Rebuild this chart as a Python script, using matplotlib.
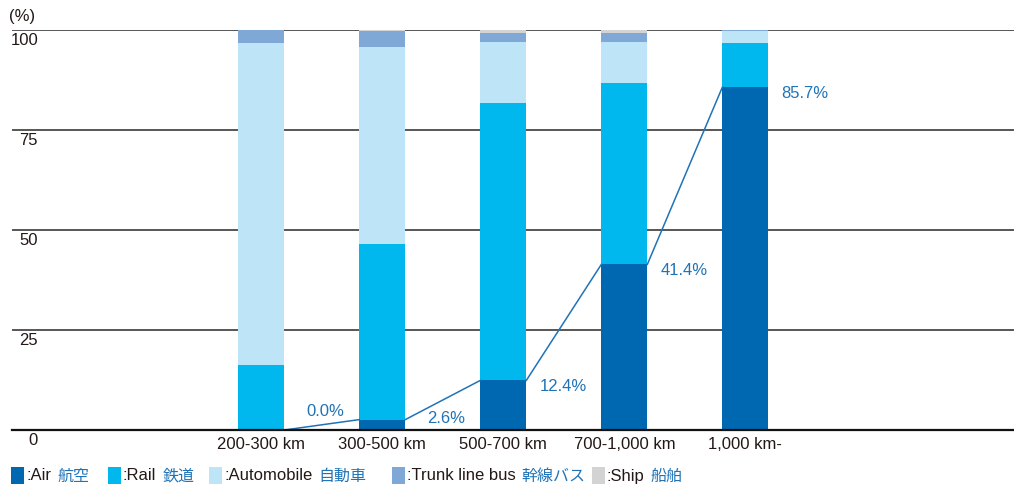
import matplotlib
matplotlib.use("Agg")
import matplotlib.pyplot as plt
from matplotlib.patches import Rectangle

plt.rcParams["font.family"] = ["Liberation Sans", "Noto Sans CJK JP", "DejaVu Sans"]

# data (share %, by distance band)
categories = ["200-300 km", "300-500 km", "500-700 km", "700-1,000 km", "1,000 km-"]
air = [0.0, 2.6, 12.4, 41.4, 85.7]
rail = [16.3, 43.9, 69.4, 45.4, 11.1]
auto = [80.5, 49.3, 15.2, 10.3, 2.9]
bus = [3.2, 3.9, 2.3, 2.2, 0.3]
ship = [0.0, 0.3, 0.7, 0.7, 0.0]
air_labels = ["0.0%", "2.6%", "12.4%", "41.4%", "85.7%"]

series_en = ["Air", "Rail", "Automobile", "Trunk line bus", "Ship"]
series_jp = ["航空", "鉄道", "自動車", "幹線バス", "船舶"]
colors = ["#0068b0", "#00b8ee", "#bee4f8", "#7fa8d6", "#d3d3d3"]
label_blue = "#1f73b7"
text_dark = "#231815"

W, H = 1014, 487
fig = plt.figure(figsize=(W / 100, H / 100), dpi=100)
ax = fig.add_axes([12 / W, 1 - 430 / H, 1 - 12 / W, 400 / H])

x = list(range(len(categories)))
width = 0.38
bottom = [0.0] * len(x)
for vals, c in zip([air, rail, auto, bus, ship], colors):
    ax.bar(x, vals, width=width, bottom=bottom, color=c, zorder=3, linewidth=0)
    bottom = [b + v for b, v in zip(bottom, vals)]

# connector line for air share
for i in range(len(x) - 1):
    ax.plot([x[i] + width / 2, x[i + 1] - width / 2], [air[i], air[i + 1]],
            color=label_blue, lw=1.1, zorder=4)

# labels
dx = [0.18, 0.18, 0.11, 0.11, 0.11]
dy = [4.5, 0.2, -1.5, -1.5, -1.5]
for i, (v, t) in enumerate(zip(air, air_labels)):
    ax.text(x[i] + width / 2 + dx[i], v + dy[i], t, color=label_blue,
            fontsize=12, ha="left", va="center", zorder=5)

ax.set_xlim(-2.06, 6.22)
ax.set_ylim(0, 100)
for s in ax.spines.values():
    s.set_visible(False)
ax.set_xticks([])
ax.set_yticks([])

for yv in [25, 50, 75, 100]:
    ax.axhline(yv, color="#3a3a3a", lw=1.2, zorder=1)
ax.axhline(0, color="#111111", lw=1.6, zorder=4, clip_on=False)

# y tick labels under the gridlines
for yv in [0, 25, 50, 75, 100]:
    fig.text(38 / W, 1 - (430 - yv * 4 + 3) / H, str(yv), ha="right", va="top",
             fontsize=12, color=text_dark)
fig.text(9 / W, 1 - 16 / H, "(%)", ha="left", va="center", fontsize=12, color=text_dark)

for i, c in enumerate(categories):
    ax.text(x[i], -1.8, c, ha="center", va="top", fontsize=12, color=text_dark)

# legend
fig.canvas.draw()
renderer = fig.canvas.get_renderer()
starts = [11, 108, 209, 392, 592]
ly = 1 - 476 / H
for st, en, jp, c in zip(starts, series_en, series_jp, colors):
    fig.patches.append(Rectangle((st / W, 1 - 484 / H), 13 / W, 17 / H,
                                 transform=fig.transFigure, color=c, lw=0))
    t = fig.text((st + 15) / W, ly, ":" + en, ha="left", va="center",
                 fontsize=12, color=text_dark)
    bb = t.get_window_extent(renderer)
    fig.text((bb.x1 + 6) / W, ly, jp, ha="left", va="center",
             fontsize=11.5, color=label_blue, family=["Noto Sans CJK JP"])

fig.savefig("out.png", dpi=100)
